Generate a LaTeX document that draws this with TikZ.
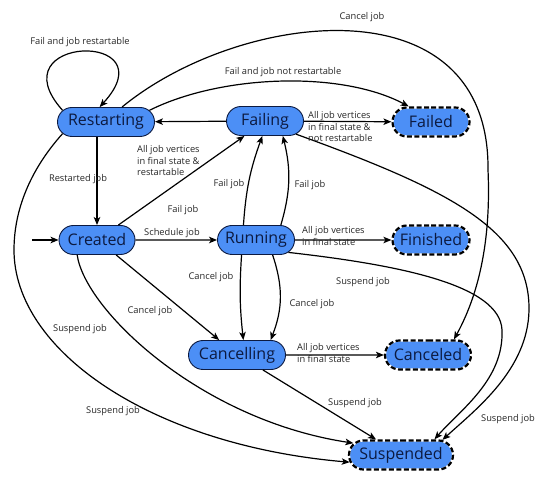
\documentclass[tikz,border=0pt]{standalone}
\usepackage{fontspec}
\setmainfont{Open Sans}
\usetikzlibrary{arrows.meta,shapes.misc}
\definecolor{stateblue}{RGB}{76,143,246}
\definecolor{statenavy}{RGB}{12,26,64}
\tikzset{
  state/.style={rounded rectangle, draw=statenavy, line width=0.9pt, fill=stateblue,
    text=statenavy, minimum height=29pt, inner xsep=2pt, inner ysep=0pt,
    font=\fontsize{16}{18}\selectfont},
  final/.style={state, draw=none, line width=2.2pt,
    postaction={draw=white, line width=2.2pt},
    postaction={draw=black, line width=2.2pt, dash pattern=on 5pt off 2.5pt}},
  lbl/.style={font=\fontsize{9.3}{11.5}\selectfont, text=black!85, inner sep=0pt, align=left},
  trans/.style={-{Stealth[length=8pt,width=6.5pt,inset=2pt]}, line width=1.2pt},
}
\begin{document}
\begin{tikzpicture}[x=1pt,y=1pt]
  \useasboundingbox (0,0) rectangle (545,500);
  % states
  \node[state,minimum width=101pt] (restarting) at (106,378) {Restarting};
  \node[state,minimum width=81pt] (failing) at (265,379) {Failing};
  \node[final,minimum width=81pt] (failed) at (431,378) {Failed};
  \node[state,minimum width=80pt] (created) at (97,260) {Created};
  \node[state,minimum width=81pt] (running) at (256,260) {Running};
  \node[final,minimum width=81pt] (finished) at (431,260) {Finished};
  \node[state,minimum width=101pt] (cancelling) at (237,145) {Cancelling};
  \node[final,minimum width=90pt] (canceled) at (428,145) {Canceled};
  \node[final,minimum width=108pt] (suspended) at (401,45) {Suspended};
  \coordinate (start) at (32,260);
  % transitions
  \draw[trans] (restarting.165) .. controls (-5,465) and (170,470) .. (restarting.113);
  \draw[trans] (restarting.south -| created.north) -- (created.north);
  \draw[trans] (failing) -- (restarting);
  \draw[trans] (restarting.15) .. controls (220,425) and (340,430) .. (failed.145);
  \draw[trans] (restarting.43) .. controls (240,490) and (490,520) .. (488,330)
    .. controls (492,240) and (470,190) .. (canceled.31);
  \draw[trans] (restarting.195) .. controls (30,330) and (14,290) .. (14,250)
    .. controls (14,150) and (150,55) .. (suspended.188);
  \draw[trans] (failing) -- (failed);
  \draw[trans] (failing.-23) .. controls (450,310) and (530,270) .. (529,190)
    .. controls (528,130) and (475,90) .. (suspended.20);
  \draw[trans] (start) -- (created);
  \draw[trans] (created) -- (running);
  \draw[trans] (created.35) -- (failing.216);
  \draw[trans] (created.-38) -- (cancelling.140);
  \draw[trans] (created.217) .. controls (85,190) and (200,80) .. (suspended.166);
  \draw[trans] (running.130) to[bend left=8] (failing.-100);
  \draw[trans] (running.31) to[bend right=15] (failing.-40);
  \draw[trans] (running) -- (finished);
  \draw[trans] (running.-134) to[bend right=5] (cancelling.67);
  \draw[trans] (running.-42) to[bend left=20] (cancelling.24);
  \draw[trans] (running.-21) .. controls (400,235) and (500,215) .. (502,170)
    .. controls (504,120) and (460,90) .. (suspended.25);
  \draw[trans] (cancelling) -- (canceled);
  \draw[trans] (cancelling.-30) -- (suspended.148);
  % labels
  \node[lbl] (lblloop) at (80,458) {Fail and job restartable};
  \node[lbl] (lblrestarted) at (78,321) {Restarted job};
  \node[lbl,anchor=west] (lblrestartable) at (137,339) {All job vertices\\in final state \&\\restartable};
  \node[lbl] (lblnotrestart) at (283,428) {Fail and job not restartable};
  \node[lbl] (lblcanceltop) at (362,483) {Cancel job};
  \node[lbl,anchor=west] (lblfailed) at (308,373) {All job vertices\\in final state \&\\not restartable};
  \node[lbl] (lblfailcreated) at (183,290) {Fail job};
  \node[lbl] (lblschedule) at (172,267) {Schedule job};
  \node[lbl] (lblfailleft) at (229,316) {Fail job};
  \node[lbl] (lblfailright) at (310,315) {Fail job};
  \node[lbl,anchor=west] (lblfinished) at (302,264) {All job vertices\\in final state};
  \node[lbl] (lblcancelcreated) at (150,189) {Cancel job};
  \node[lbl] (lblsuspcreated) at (80,171) {Suspend job};
  \node[lbl] (lblcancelleft) at (211,223) {Cancel job};
  \node[lbl] (lblcancelright) at (312,196) {Cancel job};
  \node[lbl] (lblsusprunning) at (363,218) {Suspend job};
  \node[lbl,anchor=west] (lblcanceled) at (297,147) {All job vertices\\in final state};
  \node[lbl] (lblsusprestart) at (113,89) {Suspend job};
  \node[lbl] (lblsuspcancel) at (355,97) {Suspend job};
  \node[lbl] (lblsuspfailing) at (508,81) {Suspend job};
\end{tikzpicture}
\end{document}
